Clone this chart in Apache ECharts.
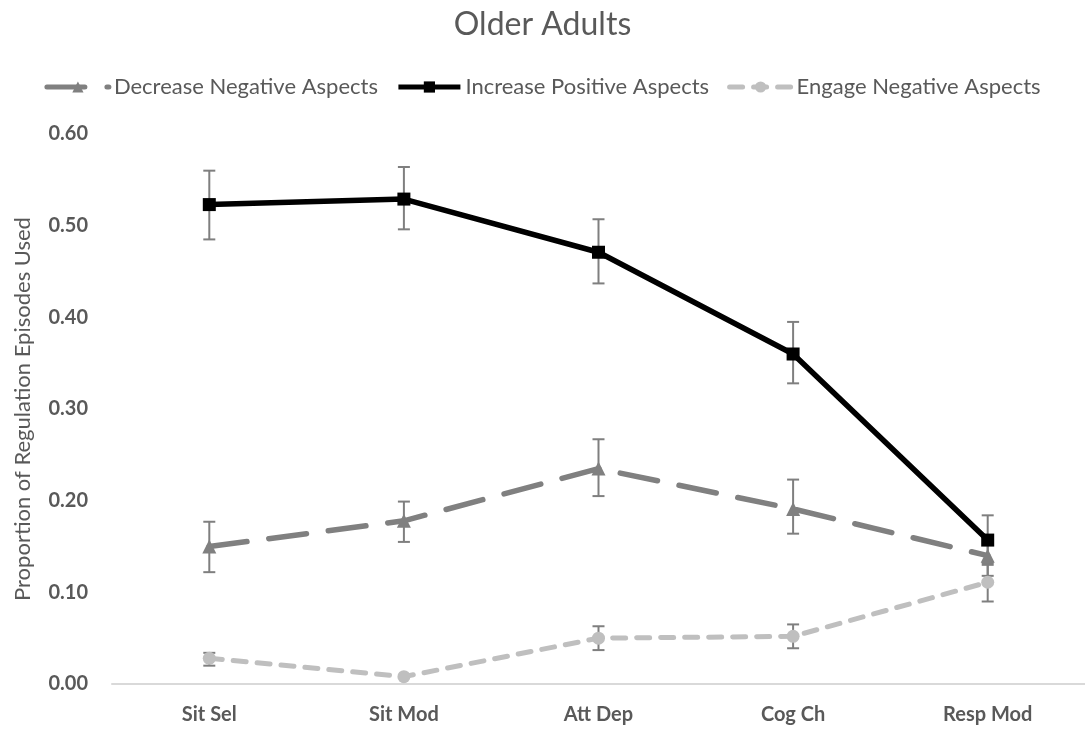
<!DOCTYPE html>
<html>
<head>
<meta charset="utf-8">
<title>Older Adults</title>
<script src="https://cdn.jsdelivr.net/npm/echarts@6/dist/echarts.min.js"></script>
<style>
  html, body { margin: 0; padding: 0; background: #ffffff; }
  #chart { width: 1085px; height: 736px; }
</style>
</head>
<body>
<div id="chart"></div>
<script>
// Regulation strategy categories
const categories = ['Sit Sel', 'Sit Mod', 'Att Dep', 'Cog Ch', 'Resp Mod'];

// Mean proportions per strategy
const decreaseNegative = [0.150, 0.178, 0.235, 0.191, 0.140];
const increasePositive = [0.523, 0.529, 0.471, 0.360, 0.157];
const engageNegative   = [0.028, 0.008, 0.050, 0.052, 0.111];

// Error bar bounds
const decreaseNegativeLow  = [0.122, 0.155, 0.205, 0.164, 0.118];
const decreaseNegativeHigh = [0.177, 0.199, 0.267, 0.223, 0.162];
const increasePositiveLow  = [0.485, 0.496, 0.437, 0.328, 0.130];
const increasePositiveHigh = [0.560, 0.564, 0.507, 0.395, 0.184];
const engageNegativeLow    = [0.020, 0.008, 0.037, 0.039, 0.090];
const engageNegativeHigh   = [0.034, 0.008, 0.063, 0.065, 0.132];

// Y axis ticks
const yTicks = [0.0, 0.1, 0.2, 0.3, 0.4, 0.5, 0.6];

const FONT = 'Lato, "Open Sans", sans-serif';
const TEXT = '#595959';
const ERR = '#7f7f7f';

function errorData(low, high) {
  return categories.map((c, i) => [i, low[i], high[i]]);
}

function renderError(params, api) {
  const lo = api.coord([api.value(0), api.value(1)]);
  const hi = api.coord([api.value(0), api.value(2)]);
  if (Math.abs(lo[1] - hi[1]) < 1) return null;
  const x = lo[0];
  const cap = 6;
  const style = { stroke: ERR, lineWidth: 2, fill: null };
  return {
    type: 'group',
    children: [
      { type: 'line', shape: { x1: x, y1: hi[1], x2: x, y2: lo[1] }, style },
      { type: 'line', shape: { x1: x - cap, y1: hi[1], x2: x + cap, y2: hi[1] }, style },
      { type: 'line', shape: { x1: x - cap, y1: lo[1], x2: x + cap, y2: lo[1] }, style }
    ]
  };
}

function errorSeries(low, high) {
  return {
    type: 'custom',
    renderItem: renderError,
    data: errorData(low, high),
    encode: { x: 0, y: [1, 2] },
    z: 1,
    silent: true
  };
}

const chart = echarts.init(document.getElementById('chart'), null, { renderer: 'canvas' });

chart.setOption({
  backgroundColor: '#ffffff',
  animation: false,
  title: {
    text: 'Older Adults',
    left: 'center',
    top: 4,
    textStyle: { fontFamily: FONT, fontSize: 32, fontWeight: 'normal', color: TEXT }
  },
  legend: {
    top: 71,
    left: 'center',
    itemWidth: 62,
    itemHeight: 14,
    itemGap: 18,
    lineStyle: { width: 5 },
    textStyle: { fontFamily: FONT, fontSize: 22, color: TEXT },
    data: ['Decrease Negative Aspects', 'Increase Positive Aspects', 'Engage Negative Aspects']
  },
  grid: { left: 112, top: 134, width: 984, height: 550, containLabel: false },
  xAxis: {
    type: 'category',
    data: categories,
    boundaryGap: true,
    axisLine: { lineStyle: { color: '#d9d9d9', width: 2 } },
    axisTick: { show: false },
    axisLabel: { fontFamily: FONT, fontSize: 20, fontWeight: 'bold', color: TEXT, margin: 21 }
  },
  yAxis: {
    type: 'value',
    min: yTicks[0],
    max: yTicks[yTicks.length - 1],
    interval: 0.1,
    name: 'Proportion of Regulation Episodes Used',
    nameLocation: 'middle',
    nameGap: 78,
    nameTextStyle: { fontFamily: FONT, fontSize: 22, color: TEXT },
    axisLine: { show: false },
    axisTick: { show: false },
    splitLine: { show: false },
    axisLabel: {
      fontFamily: FONT, fontSize: 20, fontWeight: 'bold', color: TEXT, margin: 24,
      formatter: v => v.toFixed(2)
    }
  },
  series: [
    errorSeries(decreaseNegativeLow, decreaseNegativeHigh),
    errorSeries(increasePositiveLow, increasePositiveHigh),
    errorSeries(engageNegativeLow, engageNegativeHigh),
    {
      name: 'Decrease Negative Aspects',
      type: 'line',
      data: decreaseNegative,
      z: 3,
      symbol: 'triangle',
      symbolSize: 14,
      itemStyle: { color: '#808080' },
      lineStyle: { color: '#808080', width: 5.5, type: [38, 22], cap: 'round' }
    },
    {
      name: 'Increase Positive Aspects',
      type: 'line',
      data: increasePositive,
      z: 4,
      symbol: 'rect',
      symbolSize: 13,
      itemStyle: { color: '#000000' },
      lineStyle: { color: '#000000', width: 5.5 }
    },
    {
      name: 'Engage Negative Aspects',
      type: 'line',
      data: engageNegative,
      z: 2,
      symbol: 'circle',
      symbolSize: 13,
      itemStyle: { color: '#bfbfbf' },
      lineStyle: { color: '#bfbfbf', width: 5, type: [13, 11], cap: 'round' }
    }
  ]
});
</script>
</body>
</html>
